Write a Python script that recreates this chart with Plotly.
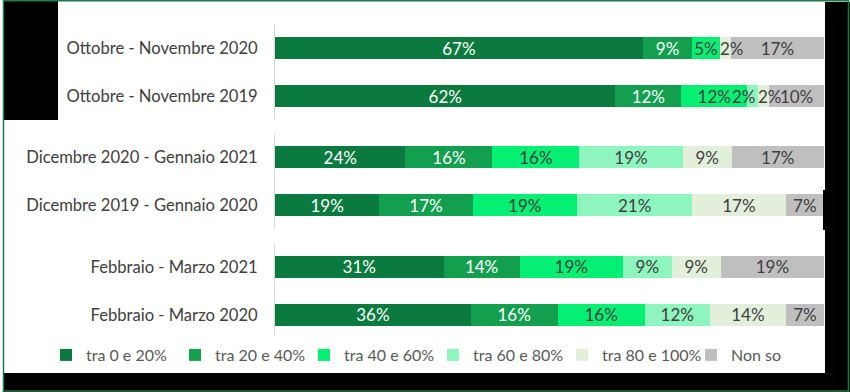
import plotly.graph_objects as go

# ---- data ----
categories = [
    "Ottobre - Novembre 2020",
    "Ottobre - Novembre 2019",
    "Dicembre 2020 - Gennaio 2021",
    "Dicembre 2019 - Gennaio 2020",
    "Febbraio - Marzo 2021",
    "Febbraio - Marzo 2020",
]
series_names = ["tra 0 e 20%", "tra 20 e 40%", "tra 40 e 60%", "tra 60 e 80%", "tra 80 e 100%", "Non so"]
tra_0_20 = [67, 62, 24, 19, 31, 36]
tra_20_40 = [9, 12, 16, 17, 14, 16]
tra_40_60 = [5, 12, 16, 19, 19, 16]
tra_60_80 = [0, 2, 19, 21, 9, 12]
tra_80_100 = [2, 2, 9, 17, 9, 14]
non_so = [17, 10, 17, 7, 19, 7]

# ---- styles ----
colors = ["#0b7a3e", "#12a04f", "#05f072", "#8ef5bf", "#e2efda", "#bfbfbf"]
text_colors = ["#ffffff", "#ffffff", "#404040", "#404040", "#404040", "#404040"]
# how labels of very thin segments are anchored (Excel-like placement)
small_anchor = [None, None, None, "right", "left", None]
SMALL = 4
FONT = "Lato"
LABEL_SIZE = 17

W, H = 850, 392
ML, MR, MT, MB = 275, 26, 24, 56
PW, PH = W - ML - MR, H - MT - MB

# row positions: pairs of rows with a small extra gap between groups
group_gap = 0.28
positions = [k + group_gap * (k // 2) for k in range(len(categories))]

fig = go.Figure()
all_series = [tra_0_20, tra_20_40, tra_40_60, tra_60_80, tra_80_100, non_so]
annotations = []
cum = [0.0] * len(categories)
for name, vals, col, tcol, anc in zip(series_names, all_series, colors, text_colors, small_anchor):
    texts = []
    for i, v in enumerate(vals):
        if v <= 0:
            texts.append("")
        elif v < SMALL and anc is not None:
            texts.append("")
            annotations.append(dict(
                x=cum[i] if anc == "left" else cum[i] + v, y=positions[i],
                xref="x", yref="y", text=f"{v}%", showarrow=False,
                xanchor=anc, yanchor="middle", xshift=-2 if anc == "left" else 0,
                font=dict(family=FONT, size=LABEL_SIZE, color=tcol),
            ))
        else:
            texts.append(f"{v}%")
    for i, v in enumerate(vals):
        cum[i] += v
    fig.add_trace(go.Bar(
        y=positions,
        x=vals,
        orientation="h",
        name=name,
        marker=dict(color=col, line=dict(width=0)),
        width=0.46,
        text=texts,
        textposition="inside",
        insidetextanchor="middle",
        textangle=0,
        textfont=dict(family=FONT, size=LABEL_SIZE, color=tcol),
        hoverinfo="name+x",
    ))


def px_to_paper_x(px):
    return (px - ML) / PW


def px_to_paper_y(py):
    return 1 - (py - MT) / PH


shapes = []
# breaks in the category axis line between the groups
for k in (1, 3):
    mid = (positions[k] + positions[k + 1]) / 2
    shapes.append(dict(type="rect", xref="paper", yref="y",
                       x0=-0.004, x1=0.002, y0=mid - 0.15, y1=mid + 0.15,
                       fillcolor="white", line=dict(width=0), layer="above"))
# black artefact blocks of the reference screenshot
for (x0, y0, x1, y1) in [(3, 0, 58, 120), (825, 2, 850, 373), (823, 190, 826, 230), (3, 373, 850, 392)]:
    shapes.append(dict(type="rect", xref="paper", yref="paper",
                       x0=px_to_paper_x(x0), x1=px_to_paper_x(x1),
                       y0=px_to_paper_y(y1), y1=px_to_paper_y(y0),
                       fillcolor="black", line=dict(width=0), layer="above"))
# thin green frame
shapes.append(dict(type="rect", xref="paper", yref="paper",
                   x0=px_to_paper_x(3.5), x1=px_to_paper_x(848.5),
                   y0=px_to_paper_y(391), y1=px_to_paper_y(0.8),
                   fillcolor="rgba(0,0,0,0)", line=dict(width=1.5, color="#1d7a47"), layer="above"))

fig.update_layout(
    width=W, height=H,
    margin=dict(l=ML, r=MR, t=MT, b=MB),
    barmode="stack",
    barnorm="percent",
    plot_bgcolor="white",
    paper_bgcolor="white",
    uniformtext=dict(minsize=LABEL_SIZE, mode="show"),
    showlegend=True,
    legend=dict(
        orientation="h",
        x=px_to_paper_x(46), xanchor="left",
        y=px_to_paper_y(355), yanchor="middle",
        font=dict(family=FONT, size=16, color="#595959"),
        traceorder="normal",
        itemwidth=30,
        entrywidth=84, entrywidthmode="pixels",
        bgcolor="rgba(0,0,0,0)",
    ),
    xaxis=dict(range=[0, 100], visible=False, fixedrange=True),
    yaxis=dict(
        range=[positions[-1] + 0.44, -0.5],
        tickvals=positions,
        ticktext=categories,
        showline=True, linecolor="#d9d9d9", linewidth=1,
        showgrid=False, zeroline=False,
        ticks="", ticklabelstandoff=13,
        tickfont=dict(family=FONT, size=16.6, color="#404040"),
        fixedrange=True,
    ),
    shapes=shapes,
    annotations=annotations,
    font=dict(family=FONT),
)

fig.write_html(
    "out.html",
    config={"displayModeBar": False},
    post_script="document.body.style.margin='0';document.body.style.padding='0';",
)
